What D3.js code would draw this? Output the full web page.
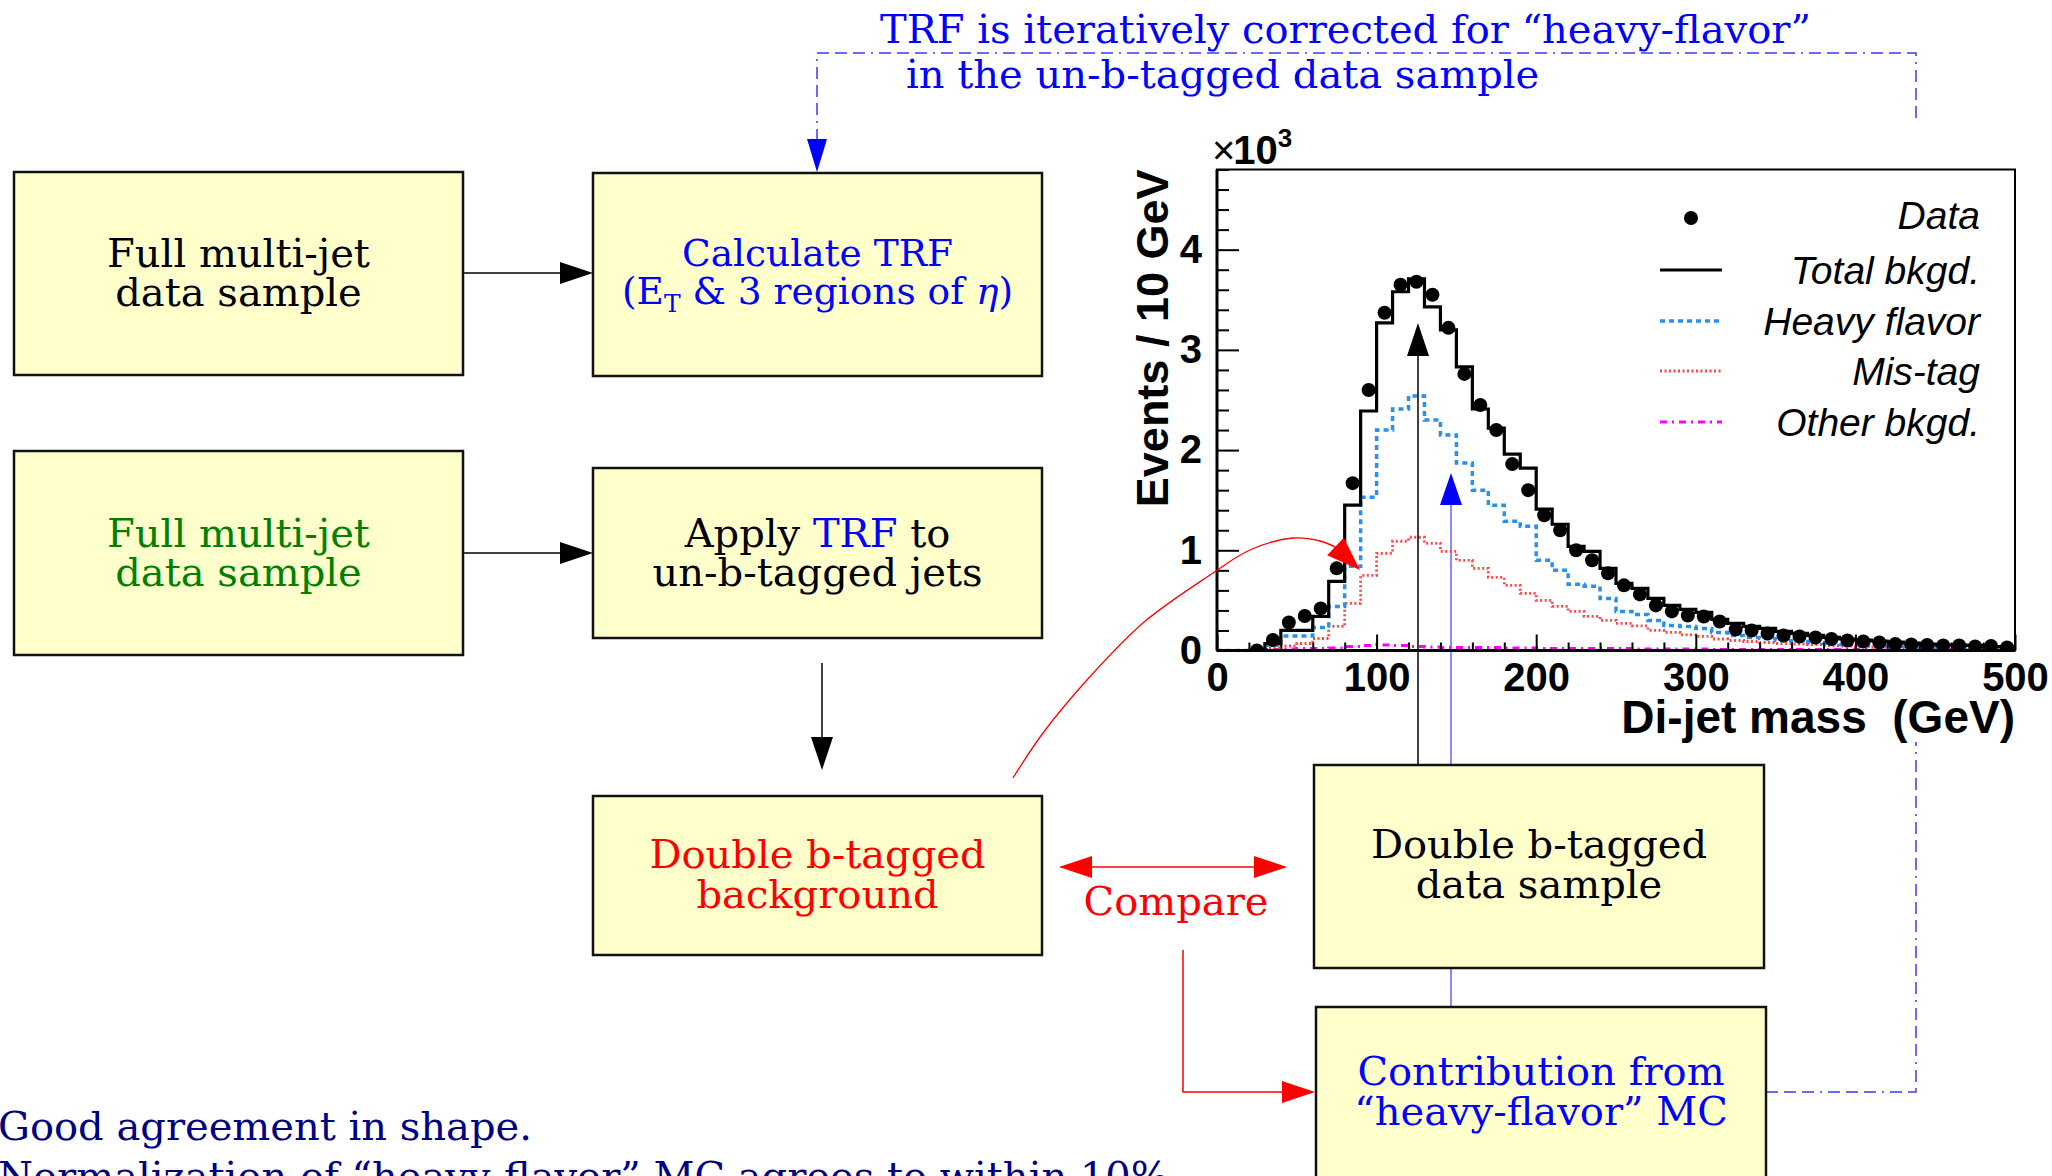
<!DOCTYPE html>
<html lang="en">
<head>
	<meta charset="UTF-8">
	<title>Double b-tagged background</title>
	<script src="https://cdn.jsdelivr.net/npm/d3@7"></script>
	<style>
		body { margin: 0; background: #fff; }
		svg { display: block; }
	</style>
</head>
<body>
	<div class="box"></div>

	<script type="text/javascript">
		// di-jet mass bins (lower edge, GeV), values in units of 10^3 events / 10 GeV
		let binLow = [0, 10, 20, 30, 40, 50, 60, 70, 80, 90, 100, 110, 120, 130, 140, 150, 160, 170, 180, 190,
			200, 210, 220, 230, 240, 250, 260, 270, 280, 290, 300, 310, 320, 330, 340, 350, 360, 370, 380, 390,
			400, 410, 420, 430, 440, 450, 460, 470, 480, 490]
		let massMax = 500
		let dataPts = [null, null, 0.0, 0.105, 0.28, 0.345, 0.42, 0.82, 1.67, 2.6, 3.37, 3.65, 3.68, 3.55, 3.22, 2.76, 2.45, 2.2, 1.86, 1.6,
			1.35, 1.2, 1.0, 0.9, 0.77, 0.65, 0.56, 0.45, 0.39, 0.35, 0.34, 0.29, 0.21, 0.2, 0.17, 0.15, 0.14, 0.13, 0.115, 0.1,
			0.09, 0.08, 0.065, 0.06, 0.055, 0.05, 0.05, 0.04, 0.045, 0.03]
		let totalBkgd = [0, 0, 0, 0.07, 0.2, 0.2, 0.34, 0.69, 1.45, 2.39, 3.27, 3.58, 3.71, 3.43, 3.2, 2.83, 2.41, 2.22, 1.96, 1.82,
			1.41, 1.26, 1.04, 0.99, 0.82, 0.67, 0.62, 0.52, 0.45, 0.41, 0.38, 0.31, 0.27, 0.24, 0.22, 0.19, 0.17, 0.15, 0.13, 0.115,
			0.105, 0.095, 0.085, 0.075, 0.065, 0.055, 0.055, 0.05, 0.04, 0.04]
		let heavyFlavor = [0, 0, 0, 0.055, 0.145, 0.145, 0.23, 0.44, 0.84, 1.53, 2.2, 2.41, 2.54, 2.3, 2.15, 1.87, 1.6, 1.45, 1.29, 1.24,
			0.9, 0.8, 0.66, 0.64, 0.52, 0.39, 0.36, 0.3, 0.25, 0.24, 0.22, 0.18, 0.15, 0.13, 0.12, 0.1, 0.09, 0.08, 0.07, 0.06,
			0.055, 0.05, 0.045, 0.04, 0.035, 0.03, 0.03, 0.025, 0.02, 0.02]
		let misTag = [0, 0, 0, 0.02, 0.045, 0.07, 0.12, 0.24, 0.47, 0.75, 0.97, 1.09, 1.13, 1.07, 0.99, 0.9, 0.82, 0.73, 0.65, 0.57,
			0.5, 0.44, 0.39, 0.34, 0.3, 0.27, 0.245, 0.2, 0.18, 0.155, 0.14, 0.115, 0.1, 0.09, 0.08, 0.07, 0.065, 0.06, 0.05, 0.045,
			0.04, 0.035, 0.03, 0.03, 0.025, 0.02, 0.02, 0.02, 0.015, 0.015]
		let otherBkgd = [0, 0, 0, 0.01, 0.015, 0.02, 0.02, 0.025, 0.04, 0.05, 0.055, 0.05, 0.04, 0.035, 0.03, 0.03, 0.03, 0.03, 0.025, 0.025,
			0.02, 0.02, 0.02, 0.02, 0.02, 0.02, 0.015, 0.015, 0.015, 0.015, 0.015, 0.01, 0.01, 0.01, 0.01, 0.01, 0.01, 0.01, 0.01, 0.01,
			0.01, 0.005, 0.005, 0.005, 0.005, 0.005, 0.005, 0.005, 0.005, 0.005]
		let xTicks = [0, 100, 200, 300, 400, 500]
		let yTicks = [0, 1, 2, 3, 4]
		let legendNames = ['Data', 'Total bkgd.', 'Heavy flavor', 'Mis-tag', 'Other bkgd.']

		let width = 2052
		let height = 1176
		let serif = 'DejaVu Serif, serif'
		let sans = 'Liberation Sans, Arial, Helvetica, sans-serif'
		let svg = d3.select('.box').append('svg').attr('width', width).attr('height', height)

		function head (g, tipX, tipY, angle, len, half, color) {
			let c = Math.cos(angle), s = Math.sin(angle)
			let bx = tipX - c * len, by = tipY - s * len
			g.append('polygon')
				.attr('points', [[tipX, tipY], [bx - s * half, by + c * half], [bx + s * half, by - c * half]].map(p => p.join(',')).join(' '))
				.attr('fill', color)
		}

		// ---------- connectors drawn under the boxes ----------
		let links = svg.append('g')
		let dashDot = '12,6,12,6,12,6,2,6'
		links.append('path')
			.attr('d', 'M1766,1092 H1916 V742 M1916,118 V53 H817 V140')
			.attr('fill', 'none').attr('stroke', '#3a3aff').attr('stroke-width', 1.5)
			.attr('stroke-dasharray', dashDot)
		head(links, 817, 172, Math.PI / 2, 33, 10, '#0000ff')

		links.append('line').attr('x1', 463).attr('y1', 273).attr('x2', 562).attr('y2', 273).attr('stroke', '#000').attr('stroke-width', 1.5)
		head(links, 593, 273, 0, 33, 11, '#000')
		links.append('line').attr('x1', 463).attr('y1', 553).attr('x2', 562).attr('y2', 553).attr('stroke', '#000').attr('stroke-width', 1.5)
		head(links, 593, 553, 0, 33, 11, '#000')
		links.append('line').attr('x1', 822).attr('y1', 663).attr('x2', 822).attr('y2', 740).attr('stroke', '#000').attr('stroke-width', 1.5)
		head(links, 822, 770, Math.PI / 2, 33, 11, '#000')

		links.append('line').attr('x1', 1061).attr('y1', 867).attr('x2', 1285).attr('y2', 867).attr('stroke', '#ff0000').attr('stroke-width', 1.5)
		head(links, 1059, 867, Math.PI, 33, 11, '#ff0000')
		head(links, 1287, 867, 0, 33, 11, '#ff0000')
		links.append('path').attr('d', 'M1183,950 V1092 H1285').attr('fill', 'none').attr('stroke', '#ff0000').attr('stroke-width', 1.5)
		head(links, 1315, 1092, 0, 33, 11, '#ff0000')

		links.append('line').attr('x1', 1451).attr('y1', 1007).attr('x2', 1451).attr('y2', 500).attr('stroke', '#6060ff').attr('stroke-width', 1.5)

		// ---------- boxes ----------
		let boxes = [
			{ x: 14, y: 172, w: 449, h: 203, fs: 40, lines: [[['Full multi-jet', '#000']], [['data sample', '#000']]], base: [267, 306] },
			{ x: 593, y: 173, w: 449, h: 203, fs: 37.5, lines: [[['Calculate TRF', '#0000ff']], 'ET'], base: [266, 304] },
			{ x: 14, y: 451, w: 449, h: 204, fs: 40, lines: [[['Full multi-jet', '#008000']], [['data sample', '#008000']]], base: [547, 586] },
			{ x: 593, y: 468, w: 449, h: 170, fs: 40, lines: [[['Apply ', '#000'], ['TRF', '#0000ff'], [' to', '#000']], [['un-b-tagged jets', '#000']]], base: [547, 586] },
			{ x: 593, y: 796, w: 449, h: 159, fs: 40, lines: [[['Double b-tagged', '#ff0000']], [['background', '#ff0000']]], base: [868, 908] },
			{ x: 1314, y: 765, w: 450, h: 203, fs: 40, lines: [[['Double b-tagged', '#000']], [['data sample', '#000']]], base: [858, 898] },
			{ x: 1316, y: 1007, w: 450, h: 210, fs: 40, lines: [[['Contribution from', '#0000ff']], [['\u201Cheavy-flavor\u201D MC', '#0000ff']]], base: [1085, 1125] }
		]
		let boxG = svg.append('g')
		boxes.forEach(b => {
			boxG.append('rect').attr('x', b.x).attr('y', b.y).attr('width', b.w).attr('height', b.h)
				.attr('fill', '#ffffcc').attr('stroke', '#111').attr('stroke-width', 2.5)
			b.lines.forEach((ln, i) => {
				let t = boxG.append('text').attr('x', b.x + b.w / 2).attr('y', b.base[i])
					.attr('text-anchor', 'middle').attr('font-family', serif).attr('font-size', b.fs)
				if (ln === 'ET') {
					t.attr('fill', '#0000ff')
					t.append('tspan').text('(E')
					t.append('tspan').attr('font-size', 25).attr('dy', 8).text('T')
					t.append('tspan').attr('dy', -8).text(' & 3 regions of ')
					t.append('tspan').attr('font-style', 'italic').text('\u03B7')
					t.append('tspan').text(')')
				} else {
					ln.forEach(part => t.append('tspan').attr('fill', part[1]).text(part[0]))
				}
			})
		})

		// ---------- free text ----------
		let notes = svg.append('g').attr('font-family', serif).attr('font-size', 40)
		notes.append('text').attr('x', 880).attr('y', 43).attr('fill', '#0000ff').text('TRF is iteratively corrected for \u201Cheavy-flavor\u201D')
		notes.append('text').attr('x', 906).attr('y', 88).attr('fill', '#0000ff').text('in the un-b-tagged data sample')
		notes.append('text').attr('x', 1176).attr('y', 915).attr('text-anchor', 'middle').attr('fill', '#ff0000').text('Compare')
		notes.append('text').attr('x', -2).attr('y', 1140).attr('fill', '#000080').text('Good agreement in shape.')
		notes.append('text').attr('x', -2).attr('y', 1190).attr('fill', '#000080').text('Normalization of \u201Cheavy-flavor\u201D MC agrees to within 10%')

		// ---------- histogram ----------
		let plot = { left: 1217, right: 2015, top: 169.5, bottom: 650.5 }
		let x = d3.scaleLinear().domain([0, massMax]).range([plot.left, plot.right])
		let y = d3.scaleLinear().domain([0, 4.8]).range([plot.bottom, plot.top])
		let chart = svg.append('g')

		chart.append('defs').append('clipPath').attr('id', 'plotClip')
			.append('rect').attr('x', plot.left).attr('y', plot.top).attr('width', plot.right - plot.left).attr('height', plot.bottom - plot.top)

		function stepPath (vals) {
			let pts = binLow.map((b, i) => [x(b), y(vals[i])])
			pts.push([x(massMax), y(vals[vals.length - 1])])
			return d3.line().curve(d3.curveStepAfter)(pts)
		}

		let styles = [
			{ vals: otherBkgd, color: '#ff00ff', w: 3, dash: '7,5,2,5' },
			{ vals: misTag, color: '#ff4545', w: 2.8, dash: '2,2.5' },
			{ vals: heavyFlavor, color: '#2b8ff0', w: 3.5, dash: '5,4' },
			{ vals: totalBkgd, color: '#000', w: 3.2, dash: null }
		]
		let hist = chart.append('g').attr('clip-path', 'url(#plotClip)')
		styles.forEach(s => {
			hist.append('path').attr('d', stepPath(s.vals)).attr('fill', 'none')
				.attr('stroke', s.color).attr('stroke-width', s.w).attr('stroke-dasharray', s.dash)
		})
		hist.selectAll('circle').data(dataPts.map((v, i) => ({ m: binLow[i] + 5, v })).filter(d => d.v !== null))
			.enter().append('circle')
			.attr('cx', d => x(d.m)).attr('cy', d => y(d.v)).attr('r', 7).attr('fill', '#000')

		// frame and axes
		chart.append('rect').attr('x', plot.left).attr('y', plot.top).attr('width', plot.right - plot.left).attr('height', plot.bottom - plot.top)
			.attr('fill', 'none').attr('stroke', '#000').attr('stroke-width', 2)

		let yMinor = d3.range(0, 4.81, 0.2).filter(v => Math.abs(v - Math.round(v)) > 0.01)
		let xMinor = d3.range(0, 501, 20).filter(v => v % 100 !== 0)

		let yAxis = chart.append('g').attr('transform', `translate(${plot.left},0)`)
			.call(d3.axisLeft(y).tickValues(yTicks).tickSize(-22).tickSizeOuter(0).tickPadding(15).tickFormat(d3.format('d')))
		let yAxisMinor = chart.append('g').attr('transform', `translate(${plot.left},0)`)
			.call(d3.axisLeft(y).tickValues(yMinor).tickSize(-12).tickSizeOuter(0).tickFormat(''))
		let xAxis = chart.append('g').attr('transform', `translate(0,${plot.bottom})`)
			.call(d3.axisBottom(x).tickValues(xTicks).tickSize(-16).tickSizeOuter(0).tickPadding(12).tickFormat(d3.format('d')))
		let xAxisMinor = chart.append('g').attr('transform', `translate(0,${plot.bottom})`)
			.call(d3.axisBottom(x).tickValues(xMinor).tickSize(-8).tickSizeOuter(0).tickFormat(''))
		;[yAxis, yAxisMinor, xAxis, xAxisMinor].forEach(a => {
			a.select('.domain').remove()
			a.selectAll('line').attr('stroke', '#000').attr('stroke-width', 2)
			a.selectAll('text').attr('font-family', sans).attr('font-size', 40).attr('font-weight', 'bold').attr('fill', '#000')
		})
		chart.append('line').attr('x1', plot.left).attr('y1', plot.top).attr('x2', plot.left).attr('y2', plot.bottom)
			.attr('stroke', '#000').attr('stroke-width', 3)
		chart.append('line').attr('x1', plot.left).attr('y1', plot.bottom).attr('x2', plot.right).attr('y2', plot.bottom)
			.attr('stroke', '#000').attr('stroke-width', 3)

		let expo = chart.append('text').attr('x', 1212).attr('y', 164).attr('font-family', sans).attr('fill', '#000')
		expo.append('tspan').attr('font-size', 40).text('\u00D7')
		expo.append('tspan').attr('font-size', 40).attr('font-weight', 'bold').attr('dx', -2).text('10')
		expo.append('tspan').attr('font-size', 26).attr('font-weight', 'bold').attr('dy', -17).text('3')

		chart.append('text').attr('transform', `translate(1168,${plot.top}) rotate(-90)`)
			.attr('text-anchor', 'end').attr('font-family', sans).attr('font-size', 45).attr('font-weight', 'bold')
			.text('Events / 10 GeV')
		chart.append('text').attr('x', plot.right).attr('y', 733)
			.attr('text-anchor', 'end').attr('font-family', sans).attr('font-size', 46).attr('font-weight', 'bold')
			.text('Di-jet mass\u00A0\u00A0(GeV)')

		// legend
		let legY = [229, 284, 335, 385, 436]
		let leg = chart.append('g')
		legendNames.forEach((name, i) => {
			leg.append('text').attr('x', 1980).attr('y', legY[i]).attr('text-anchor', 'end')
				.attr('font-family', sans).attr('font-size', 39).attr('font-style', 'italic').text(name)
			if (i === 0) {
				leg.append('circle').attr('cx', 1691).attr('cy', legY[i] - 11).attr('r', 7).attr('fill', '#000')
			} else {
				let s = styles[4 - i]
				leg.append('line').attr('x1', 1660).attr('x2', 1722).attr('y1', legY[i] - 14).attr('y2', legY[i] - 14)
					.attr('stroke', s.color).attr('stroke-width', s.w).attr('stroke-dasharray', s.dash)
			}
		})

		// ---------- arrows drawn over the chart ----------
		let over = svg.append('g')
		over.append('line').attr('x1', 1418).attr('y1', 765).attr('x2', 1418).attr('y2', 350).attr('stroke', '#000').attr('stroke-width', 1.5)
		head(over, 1418, 323, -Math.PI / 2, 33, 11, '#000')
		head(over, 1451, 473, -Math.PI / 2, 32, 11, '#0000ff')

		let curvePts = [[1013, 778], [1043, 733], [1087, 680], [1143, 623], [1210, 575], [1250, 550], [1293, 538], [1320, 541], [1337, 548]]
		over.append('path').attr('d', d3.line().curve(d3.curveCatmullRom)(curvePts))
			.attr('fill', 'none').attr('stroke', '#ff0000').attr('stroke-width', 1.3)
		head(over, 1360, 570, Math.atan2(23, 24), 34, 12, '#ff0000')
	</script>
</body>
</html>
